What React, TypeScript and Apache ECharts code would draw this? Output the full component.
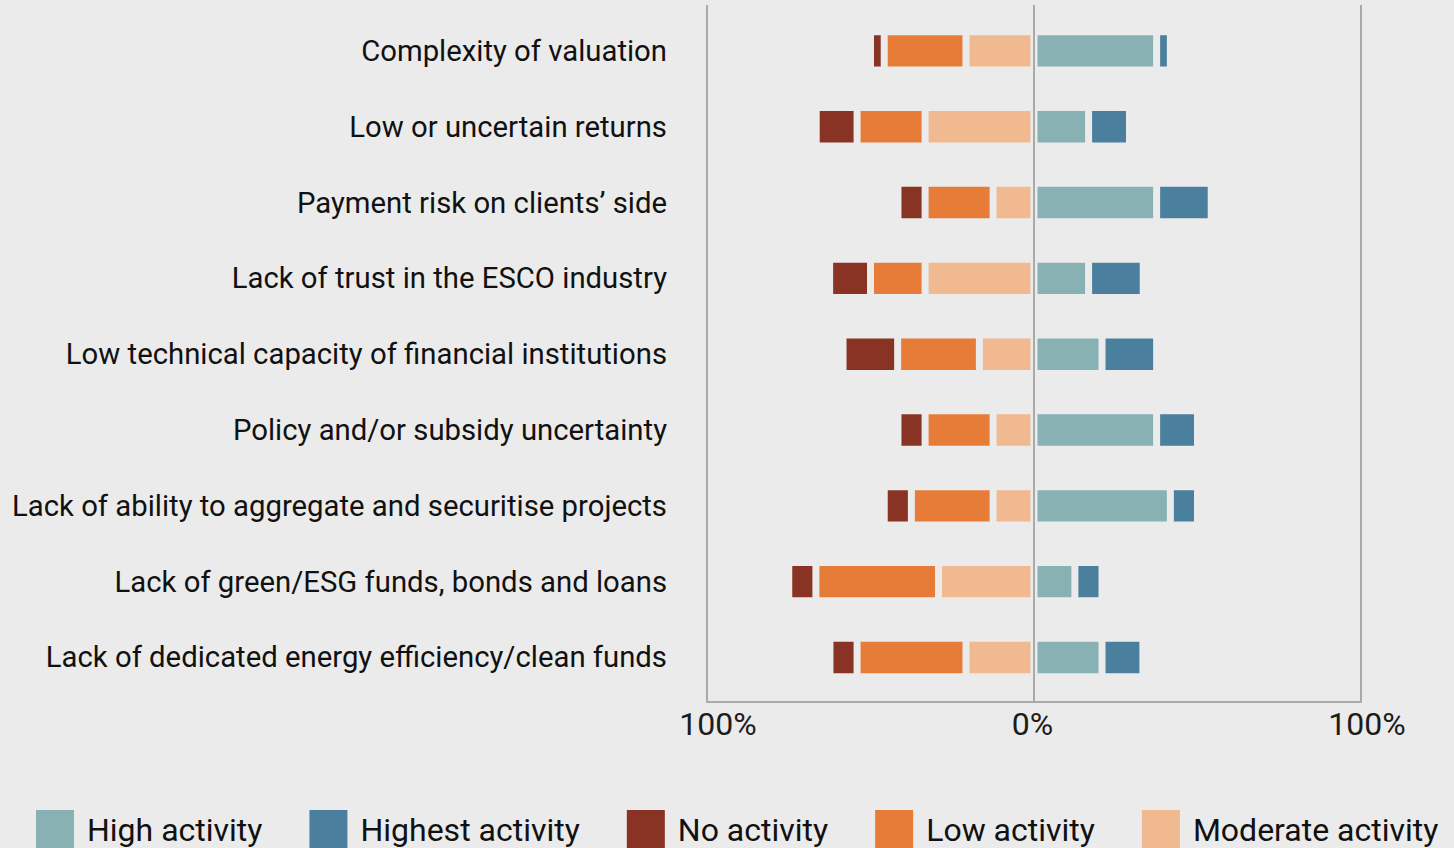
import React, { useEffect, useRef } from "react";
import * as echarts from "echarts";

const categories = [
  "Complexity of valuation",
  "Low or uncertain returns",
  "Payment risk on clients\u2019 side",
  "Lack of trust in the ESCO industry",
  "Low technical capacity of financial institutions",
  "Policy and/or subsidy uncertainty",
  "Lack of ability to aggregate and securitise projects",
  "Lack of green/ESG funds, bonds and loans",
  "Lack of dedicated energy efficiency/clean funds",
];

// shares of respondents (%), left side values are plotted as negatives
const moderateActivity = [20.8, 33.3, 12.5, 33.3, 16.7, 12.5, 12.5, 29.2, 20.8];
const lowActivity = [25.0, 20.8, 20.8, 16.7, 25.0, 20.8, 25.0, 37.5, 33.3];
const noActivity = [4.2, 12.5, 8.3, 12.5, 16.7, 8.3, 8.3, 8.3, 8.3];
const highActivity = [37.5, 16.7, 37.5, 16.7, 20.8, 37.5, 41.7, 12.5, 20.8];
const highestActivity = [4.2, 12.5, 16.7, 16.7, 16.7, 12.5, 8.3, 8.3, 12.5];

const legendOrder = ["High activity", "Highest activity", "No activity", "Low activity", "Moderate activity"];
const xTicks = [-100, 0, 100];

const BG = "#ebebeb";
const LINE = "#a9a9a9";
const FONT = "Roboto";

export default function App() {
  const ref = useRef<HTMLDivElement>(null);
  useEffect(() => {
    document.body.style.margin = "0";
    document.body.style.background = BG;
    const chart = echarts.init(ref.current!, undefined, { renderer: "svg" });
    const barBase = (name: string, color: string, data: number[], extra: any = {}) => ({
      name,
      type: "bar",
      stack: "total",
      xAxisIndex: 0,
      yAxisIndex: 0,
      barWidth: 38.4,
      data,
      itemStyle: { color, borderColor: BG, borderWidth: 3.5 },
      emphasis: { disabled: true },
      ...extra,
    });
    chart.setOption({
      animation: false,
      backgroundColor: BG,
      textStyle: { fontFamily: FONT },
      grid: [
        { left: 707, right: 93, top: 13, bottom: 152.6 },
        { left: 707, right: 93, top: 5, bottom: 146.3 },
      ],
      xAxis: [
        { gridIndex: 0, type: "value", min: -100, max: 100, show: false },
        {
          gridIndex: 1,
          type: "value",
          min: xTicks[0],
          max: xTicks[xTicks.length - 1],
          interval: 100,
          axisLine: { show: true, lineStyle: { color: LINE, width: 2 } },
          axisTick: { show: false },
          splitLine: { show: true, lineStyle: { color: LINE, width: 2 } },
          axisLabel: {
            margin: 6,
            fontSize: 32,
            color: "#1c1c1c",
            fontFamily: FONT,
            formatter: (v: number) => {
              const s = Math.abs(v) + "%";
              if (v < 0) return "{l|" + s + "}";
              if (v > 0) return "{r|" + s + "}";
              return "{c|" + s + "}";
            },
            rich: {
              l: { fontSize: 32, color: "#1c1c1c", fontFamily: FONT, padding: [0, 0, 0, 22] },
              r: { fontSize: 32, color: "#1c1c1c", fontFamily: FONT, padding: [0, 0, 0, 12] },
              c: { fontSize: 32, color: "#1c1c1c", fontFamily: FONT, padding: [0, 3, 0, 0] },
            },
          },
        },
      ],
      yAxis: [
        {
          gridIndex: 0,
          type: "category",
          inverse: true,
          data: categories,
          axisLine: { show: false },
          axisTick: { show: false },
          axisLabel: { margin: 40, fontSize: 29.3, color: "#111111", fontFamily: FONT },
        },
        { gridIndex: 1, type: "value", min: 0, max: 1, show: false },
      ],
      legend: {
        data: legendOrder,
        left: 36,
        top: 810,
        width: 1418,
        padding: 0,
        itemWidth: 38,
        itemHeight: 40,
        itemGap: 47,
        icon: "rect",
        itemStyle: { borderWidth: 0 },
        textStyle: { fontSize: 32, color: "#111111", fontFamily: FONT, padding: [0, 0, 0, 8] },
        selectedMode: false,
      },
      series: [
        barBase("Moderate activity", "#f1b98f", moderateActivity.map((v) => -v)),
        barBase("Low activity", "#e67c38", lowActivity.map((v) => -v)),
        barBase("No activity", "#893324", noActivity.map((v) => -v)),
        barBase("High activity", "#88b1b4", highActivity),
        barBase("Highest activity", "#4b7f9e", highestActivity, {
          z: 3,
          markLine: {
            silent: true,
            symbol: "none",
            label: { show: false },
            lineStyle: { color: LINE, width: 2, type: "solid" },
            data: [{ xAxis: 0 }],
          },
        }),
      ],
    });
    return () => chart.dispose();
  }, []);
  return (
    <div
      ref={ref}
      style={{ position: "fixed", left: 0, top: 0, width: 1454, height: 848, background: BG }}
    />
  );
}
